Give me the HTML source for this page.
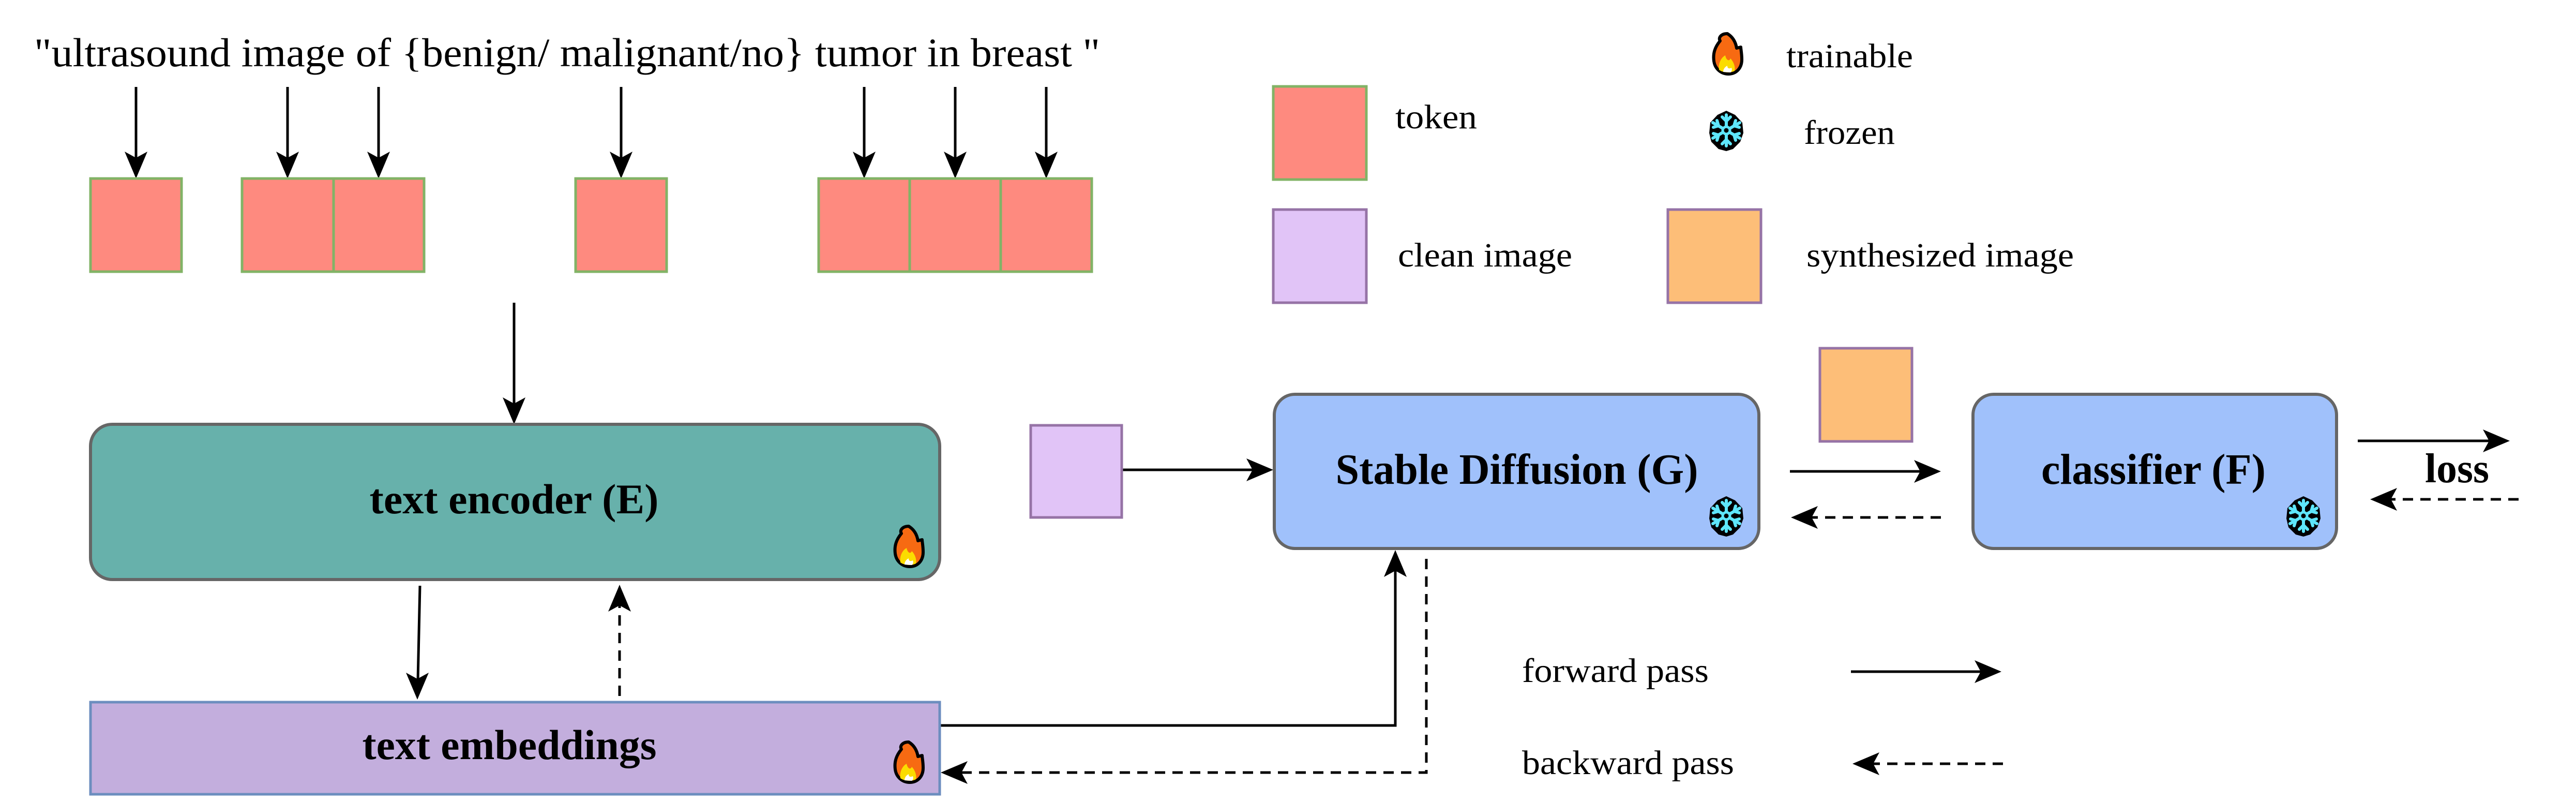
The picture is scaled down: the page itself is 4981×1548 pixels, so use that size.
<!DOCTYPE html>
<html><head><meta charset="utf-8"><style>html,body{margin:0;padding:0;background:#fff}svg{display:block}</style></head>
<body>
<svg xmlns="http://www.w3.org/2000/svg" width="4981" height="1548" viewBox="0 0 4981 1548" font-family="'Liberation Serif', serif">
<defs>
<g id="flame">
<path d="M30,2 C18,2 12,10 16,16 C6,28 2,40 4,55 C6,70 18,80 32,80 C48,80 58,68 58,52 C58,40 56,32 56,28 L48,30 C46,18 40,8 30,2 Z" fill="#f76a12" stroke="#000" stroke-width="6" stroke-linejoin="round"/>
<path d="M14,72 C12,60 18,48 26,44 C28,54 34,56 36,50 C42,56 46,66 44,74 C36,78 22,78 14,72 Z" fill="#fbdc00"/>
<path d="M22,76 C22,70 26,66 30,64 C30,70 34,70 38,68 C40,72 38,76 36,77 Z" fill="#fff"/>
</g>
<g id="snow">
<path d="M35,2 L52,10 L66,25 L68,45 L62,62 L48,76 L35,80 L20,76 L6,62 L2,45 L4,25 L18,10 Z" fill="#000"/>
<g stroke="#5ee6fb" stroke-width="6" stroke-linecap="round" fill="none">
<line x1="35" y1="10" x2="35" y2="70"/><line x1="9" y1="25" x2="61" y2="55"/><line x1="9" y1="55" x2="61" y2="25"/>
<path d="M27,14 L35,22 L43,14 M27,66 L35,58 L43,66 M10,34 L20,31 L17,21 M60,46 L50,49 L53,59 M10,46 L20,49 L17,59 M60,34 L50,31 L53,21"/>
</g>
<circle cx="35" cy="40" r="7" fill="#000" stroke="#5ee6fb" stroke-width="5"/>
</g>
</defs>

<text x="66" y="128" font-size="78" textLength="2061" lengthAdjust="spacingAndGlyphs">"ultrasound image of {benign/ malignant/no} tumor in breast "</text>

<g stroke="#000" stroke-width="5" fill="none">
<line x1="263" y1="168" x2="263" y2="310"/>
<line x1="556" y1="168" x2="556" y2="310"/>
<line x1="732" y1="168" x2="732" y2="310"/>
<line x1="1201" y1="168" x2="1201" y2="310"/>
<line x1="1671" y1="168" x2="1671" y2="310"/>
<line x1="1847" y1="168" x2="1847" y2="310"/>
<line x1="2023" y1="168" x2="2023" y2="310"/>
<line x1="994" y1="585" x2="994" y2="785"/>
<line x1="812" y1="1132" x2="808" y2="1315"/>
<polyline points="1817,1402 2698,1402 2698,1100"/>
<line x1="2169" y1="908" x2="2425" y2="908"/>
<line x1="3461" y1="911" x2="3715" y2="911"/>
<line x1="4559" y1="852" x2="4815" y2="852"/>
<line x1="3579" y1="1298" x2="3832" y2="1298"/>
</g>
<g stroke="#000" stroke-width="5" stroke-dasharray="20,14" fill="none">
<line x1="1198" y1="1345" x2="1198" y2="1170"/>
<polyline points="2758,1080 2758,1493 1855,1493"/>
<line x1="3753" y1="1000" x2="3500" y2="1000"/>
<line x1="4870" y1="965" x2="4620" y2="965"/>
<line x1="3873" y1="1476" x2="3620" y2="1476"/>
</g>
<g fill="#000">
<polygon points="263,345 241,293 263,305 285,293"/>
<polygon points="556,345 534,293 556,305 578,293"/>
<polygon points="732,345 710,293 732,305 754,293"/>
<polygon points="1201,345 1179,293 1201,305 1223,293"/>
<polygon points="1671,345 1649,293 1671,305 1693,293"/>
<polygon points="1847,345 1825,293 1847,305 1869,293"/>
<polygon points="2023,345 2001,293 2023,305 2045,293"/>
<polygon points="994,820 972,768 994,780 1016,768"/>
<polygon points="807,1352 785,1300 807,1312 829,1300"/>
<polygon points="1198,1130 1176,1182 1198,1170 1220,1182"/>
<polygon points="2698,1063 2676,1115 2698,1103 2720,1115"/>
<polygon points="1819,1493 1871,1471 1859,1493 1871,1515"/>
<polygon points="2462,908 2410,886 2422,908 2410,930"/>
<polygon points="3753,911 3701,889 3713,911 3701,933"/>
<polygon points="3463,1000 3515,978 3503,1000 3515,1022"/>
<polygon points="4853,852 4801,830 4813,852 4801,874"/>
<polygon points="4583,965 4635,943 4623,965 4635,987"/>
<polygon points="3870,1298 3818,1276 3830,1298 3818,1320"/>
<polygon points="3582,1476 3634,1454 3622,1476 3634,1498"/>
</g>

<g fill="#fe8a7f" stroke="#82b366" stroke-width="5">
<rect x="175" y="345" width="176" height="180"/>
<rect x="468" y="345" width="177" height="180"/>
<rect x="645" y="345" width="175" height="180"/>
<rect x="1113" y="345" width="176" height="180"/>
<rect x="1583" y="345" width="176" height="180"/>
<rect x="1759" y="345" width="176" height="180"/>
<rect x="1935" y="345" width="176" height="180"/>
<rect x="2462" y="167" width="180" height="180"/>
</g>

<rect x="175" y="820" width="1642" height="300" rx="42" fill="#67b1ab" stroke="#666" stroke-width="6"/>
<text x="994" y="992" font-size="82" font-weight="bold" text-anchor="middle" textLength="559" lengthAdjust="spacingAndGlyphs">text encoder (E)</text>
<use href="#flame" x="1727" y="1015"/>

<rect x="175" y="1357" width="1642" height="178" fill="#c3aedd" stroke="#6c8ebf" stroke-width="5"/>
<text x="985" y="1467" font-size="82" font-weight="bold" text-anchor="middle" textLength="569" lengthAdjust="spacingAndGlyphs">text embeddings</text>
<use href="#flame" x="1727" y="1432"/>

<rect x="1993" y="822" width="176" height="178" fill="#e1c4f7" stroke="#9673a6" stroke-width="5"/>
<rect x="2464" y="762" width="937" height="298" rx="40" fill="#a0c1fb" stroke="#666" stroke-width="6"/>
<text x="2933" y="935" font-size="84" font-weight="bold" text-anchor="middle" textLength="701" lengthAdjust="spacingAndGlyphs">Stable Diffusion (G)</text>
<use href="#snow" x="3303" y="957"/>
<rect x="3519" y="673" width="178" height="180" fill="#fdbe78" stroke="#9673a6" stroke-width="5"/>
<rect x="3815" y="762" width="703" height="298" rx="40" fill="#a0c1fb" stroke="#666" stroke-width="6"/>
<text x="4164" y="935" font-size="84" font-weight="bold" text-anchor="middle" textLength="434" lengthAdjust="spacingAndGlyphs">classifier (F)</text>
<use href="#snow" x="4419" y="957"/>
<text x="4751" y="932" font-size="80" font-weight="bold" text-anchor="middle" textLength="124" lengthAdjust="spacingAndGlyphs">loss</text>

<text x="2698" y="248" font-size="66" textLength="158" lengthAdjust="spacingAndGlyphs">token</text>
<use href="#flame" x="3310" y="63"/>
<text x="3454" y="130" font-size="66" textLength="245" lengthAdjust="spacingAndGlyphs">trainable</text>
<use href="#snow" x="3303" y="212"/>
<text x="3488" y="278" font-size="66" textLength="176" lengthAdjust="spacingAndGlyphs">frozen</text>
<rect x="2462" y="405" width="180" height="180" fill="#e1c4f7" stroke="#9673a6" stroke-width="5"/>
<text x="2703" y="515" font-size="66" textLength="337" lengthAdjust="spacingAndGlyphs">clean image</text>
<rect x="3225" y="405" width="180" height="180" fill="#fdbe78" stroke="#9673a6" stroke-width="5"/>
<text x="3493" y="515" font-size="66" textLength="517" lengthAdjust="spacingAndGlyphs">synthesized image</text>
<text x="2943" y="1318" font-size="66" textLength="361" lengthAdjust="spacingAndGlyphs">forward pass</text>
<text x="2943" y="1496" font-size="66" textLength="410" lengthAdjust="spacingAndGlyphs">backward pass</text>
</svg>
</body></html>
